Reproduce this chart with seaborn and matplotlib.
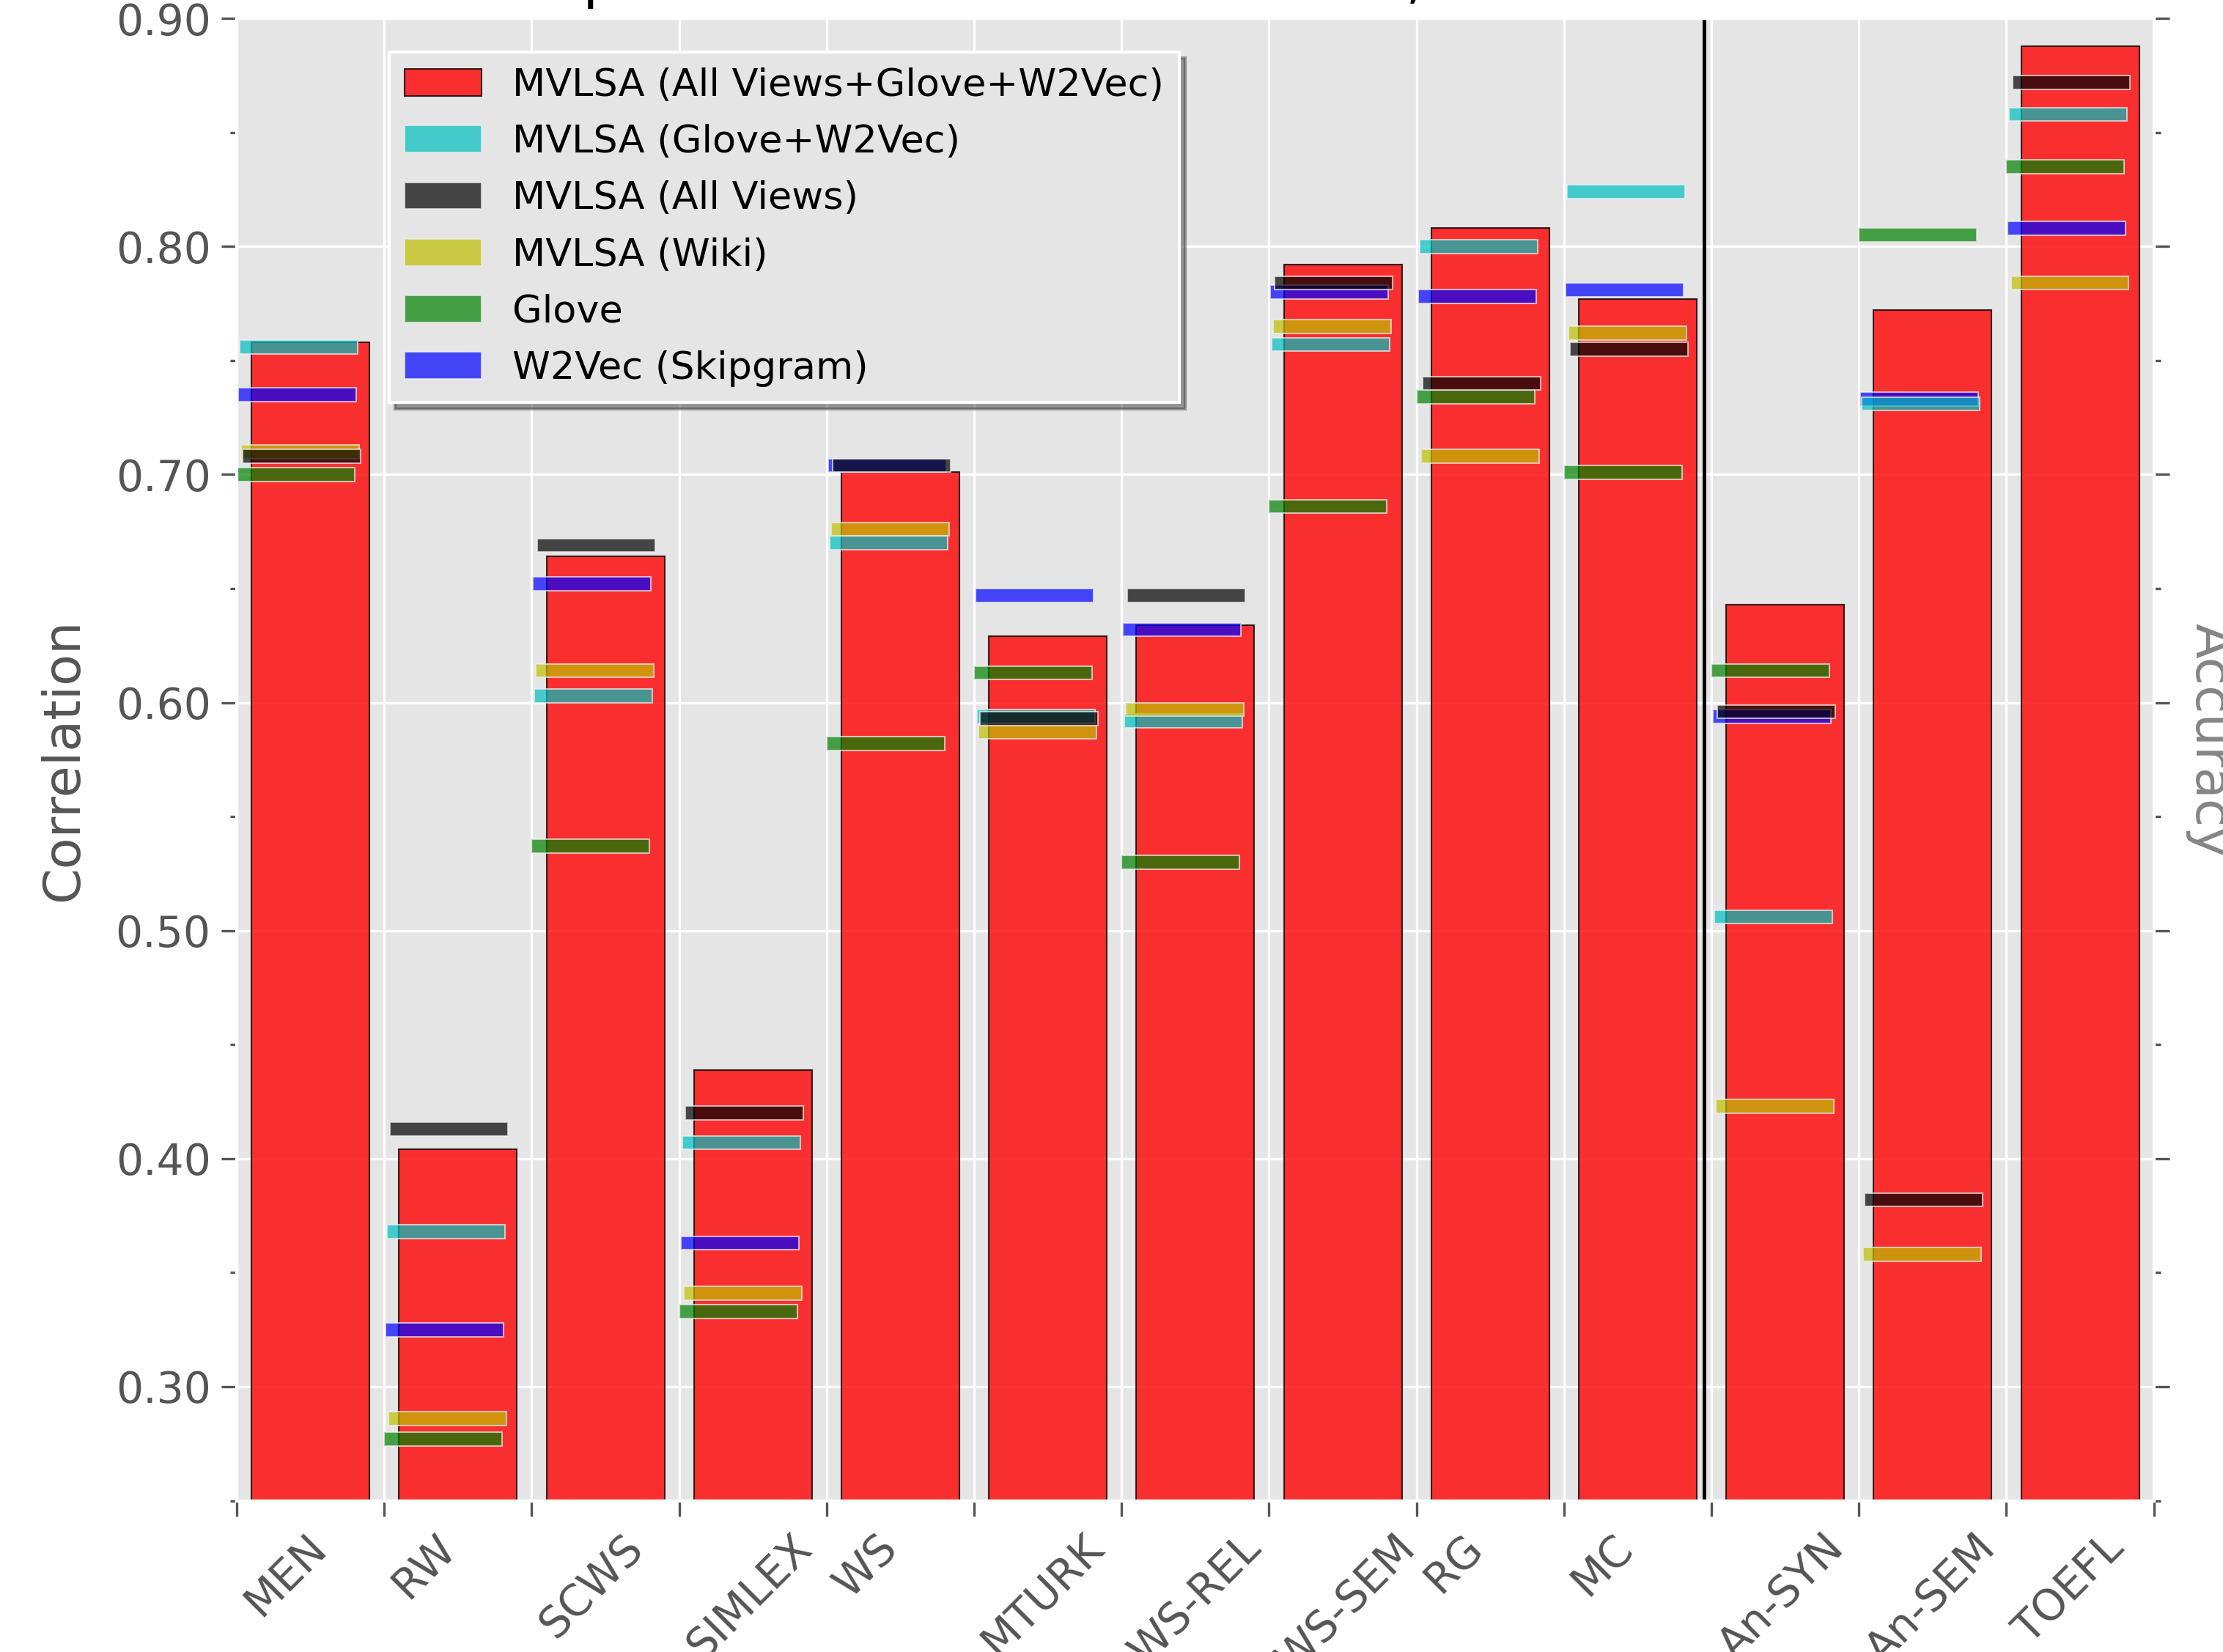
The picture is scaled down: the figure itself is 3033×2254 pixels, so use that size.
import matplotlib
matplotlib.use("Agg")
import matplotlib.pyplot as plt
import numpy as np
import pandas as pd
import seaborn as sns

# word similarity / analogy / TOEFL test sets
datasets = ["MEN", "RW", "SCWS", "SIMLEX", "WS", "MTURK", "WS-REL",
            "WS-SEM", "RG", "MC", "An-SYN", "An-SEM", "TOEFL"]

mvlsa_all = [0.758, 0.404, 0.664, 0.439, 0.701, 0.629, 0.634,
             0.792, 0.808, 0.777, 0.643, 0.772, 0.888]
mvlsa_glove_w2v = [0.756, 0.368, 0.603, 0.407, 0.670, 0.594, 0.592,
                   0.757, 0.800, 0.824, 0.506, 0.731, 0.858]
mvlsa_views = [0.708, 0.413, 0.669, 0.420, 0.704, 0.593, 0.647,
               0.784, 0.740, 0.755, 0.596, 0.382, 0.872]
mvlsa_wiki = [0.710, 0.286, 0.614, 0.341, 0.676, 0.587, 0.597,
              0.765, 0.708, 0.762, 0.423, 0.358, 0.784]
glove = [0.700, 0.277, 0.537, 0.333, 0.582, 0.613, 0.530,
         0.686, 0.734, 0.701, 0.614, 0.805, 0.835]
w2vec = [0.735, 0.325, 0.652, 0.363, 0.704, 0.647, 0.632,
         0.780, 0.778, 0.781, 0.594, 0.733, 0.808]

labels = ["MVLSA (All Views+Glove+W2Vec)", "MVLSA (Glove+W2Vec)",
          "MVLSA (All Views)", "MVLSA (Wiki)", "Glove", "W2Vec (Skipgram)"]

plt.style.use("ggplot")
plt.rcParams["font.family"] = ["DejaVu Sans"]
plt.rcParams["font.size"] = 14

fig = plt.figure(figsize=(3033 / 300, 2254 / 300), dpi=300)
ax = fig.add_axes([0.1065, 0.0916, 0.9689 - 0.1065, 0.9888 - 0.0916])

df = pd.DataFrame({"dataset": datasets, "score": mvlsa_all})
sns.barplot(data=df, x="dataset", y="score", color="red", saturation=1,
            alpha=0.8, edgecolor="black", linewidth=0.5, width=0.8,
            errorbar=None, ax=ax)
red_bars = ax.containers[0]

# thin markers for the other systems, slightly shifted
idx = np.arange(len(datasets))
mark_h = 0.006
others = [(glove, "g", 0.00), (w2vec, "b", 0.01), (mvlsa_glove_w2v, "c", 0.02),
          (mvlsa_wiki, "y", 0.03), (mvlsa_views, "k", 0.04)]
marks = {}
for vals, col, off in others:
    vals = np.asarray(vals)
    marks[col] = ax.bar(idx - 0.5 + off, mark_h, width=0.8, bottom=vals - mark_h / 2,
                        align="edge", color=col, alpha=0.7,
                        edgecolor="#EEEEEE", linewidth=0.5)

ax.axvline(9.45, color="black", lw=1.2)

bounds = np.arange(len(datasets) + 1) - 0.5
ax.set_xticks(bounds)
ax.set_xticklabels(datasets + [""], rotation=45, ha="left")
ax.set_xlim(-0.5, len(datasets) - 0.5)
ax.set_xlabel("")
ax.xaxis.grid(True)

major = np.round(np.arange(0.30, 0.91, 0.10), 2)
minor = np.round(np.arange(0.25, 0.86, 0.10), 2)
ax.set_ylim(0.25, 0.90)
ax.set_yticks(major)
ax.set_yticks(minor, minor=True)
ax.set_yticklabels([f"{v:.2f}" for v in major])
ax.set_ylabel("Correlation", labelpad=9)
ax.tick_params(axis="both", which="major", length=5, width=0.8)
ax.tick_params(axis="y", which="minor", length=2.2, width=0.8)

ax.set_title("Comparison of MVLSA with Glove, W2Vec and others",
             fontsize=18.75, pad=7, x=0.5065)

ax2 = ax.twinx()
ax2.set_ylim(0.25, 0.90)
ax2.set_yticks(major)
ax2.set_yticks(minor, minor=True)
ax2.set_yticklabels([])
ax2.grid(False)
ax2.tick_params(axis="y", which="major", length=5, width=0.8)
ax2.tick_params(axis="y", which="minor", length=2.2, width=0.8)
ax2.set_ylabel("Accuracy", rotation=270, color="#858585")
ax2.yaxis.set_label_coords(1.042, 0.513)

handles = [red_bars, marks["c"], marks["k"], marks["y"], marks["g"], marks["b"]]
leg = ax.legend(handles, labels, loc="upper left", bbox_to_anchor=(0.0794, 0.9775),
                borderaxespad=0, fontsize=12.6, labelspacing=0.52, shadow=True,
                fancybox=False, framealpha=1)
leg.get_frame().set_edgecolor("white")
leg.get_frame().set_linewidth(1.0)

fig.savefig("out.png", dpi=300)
